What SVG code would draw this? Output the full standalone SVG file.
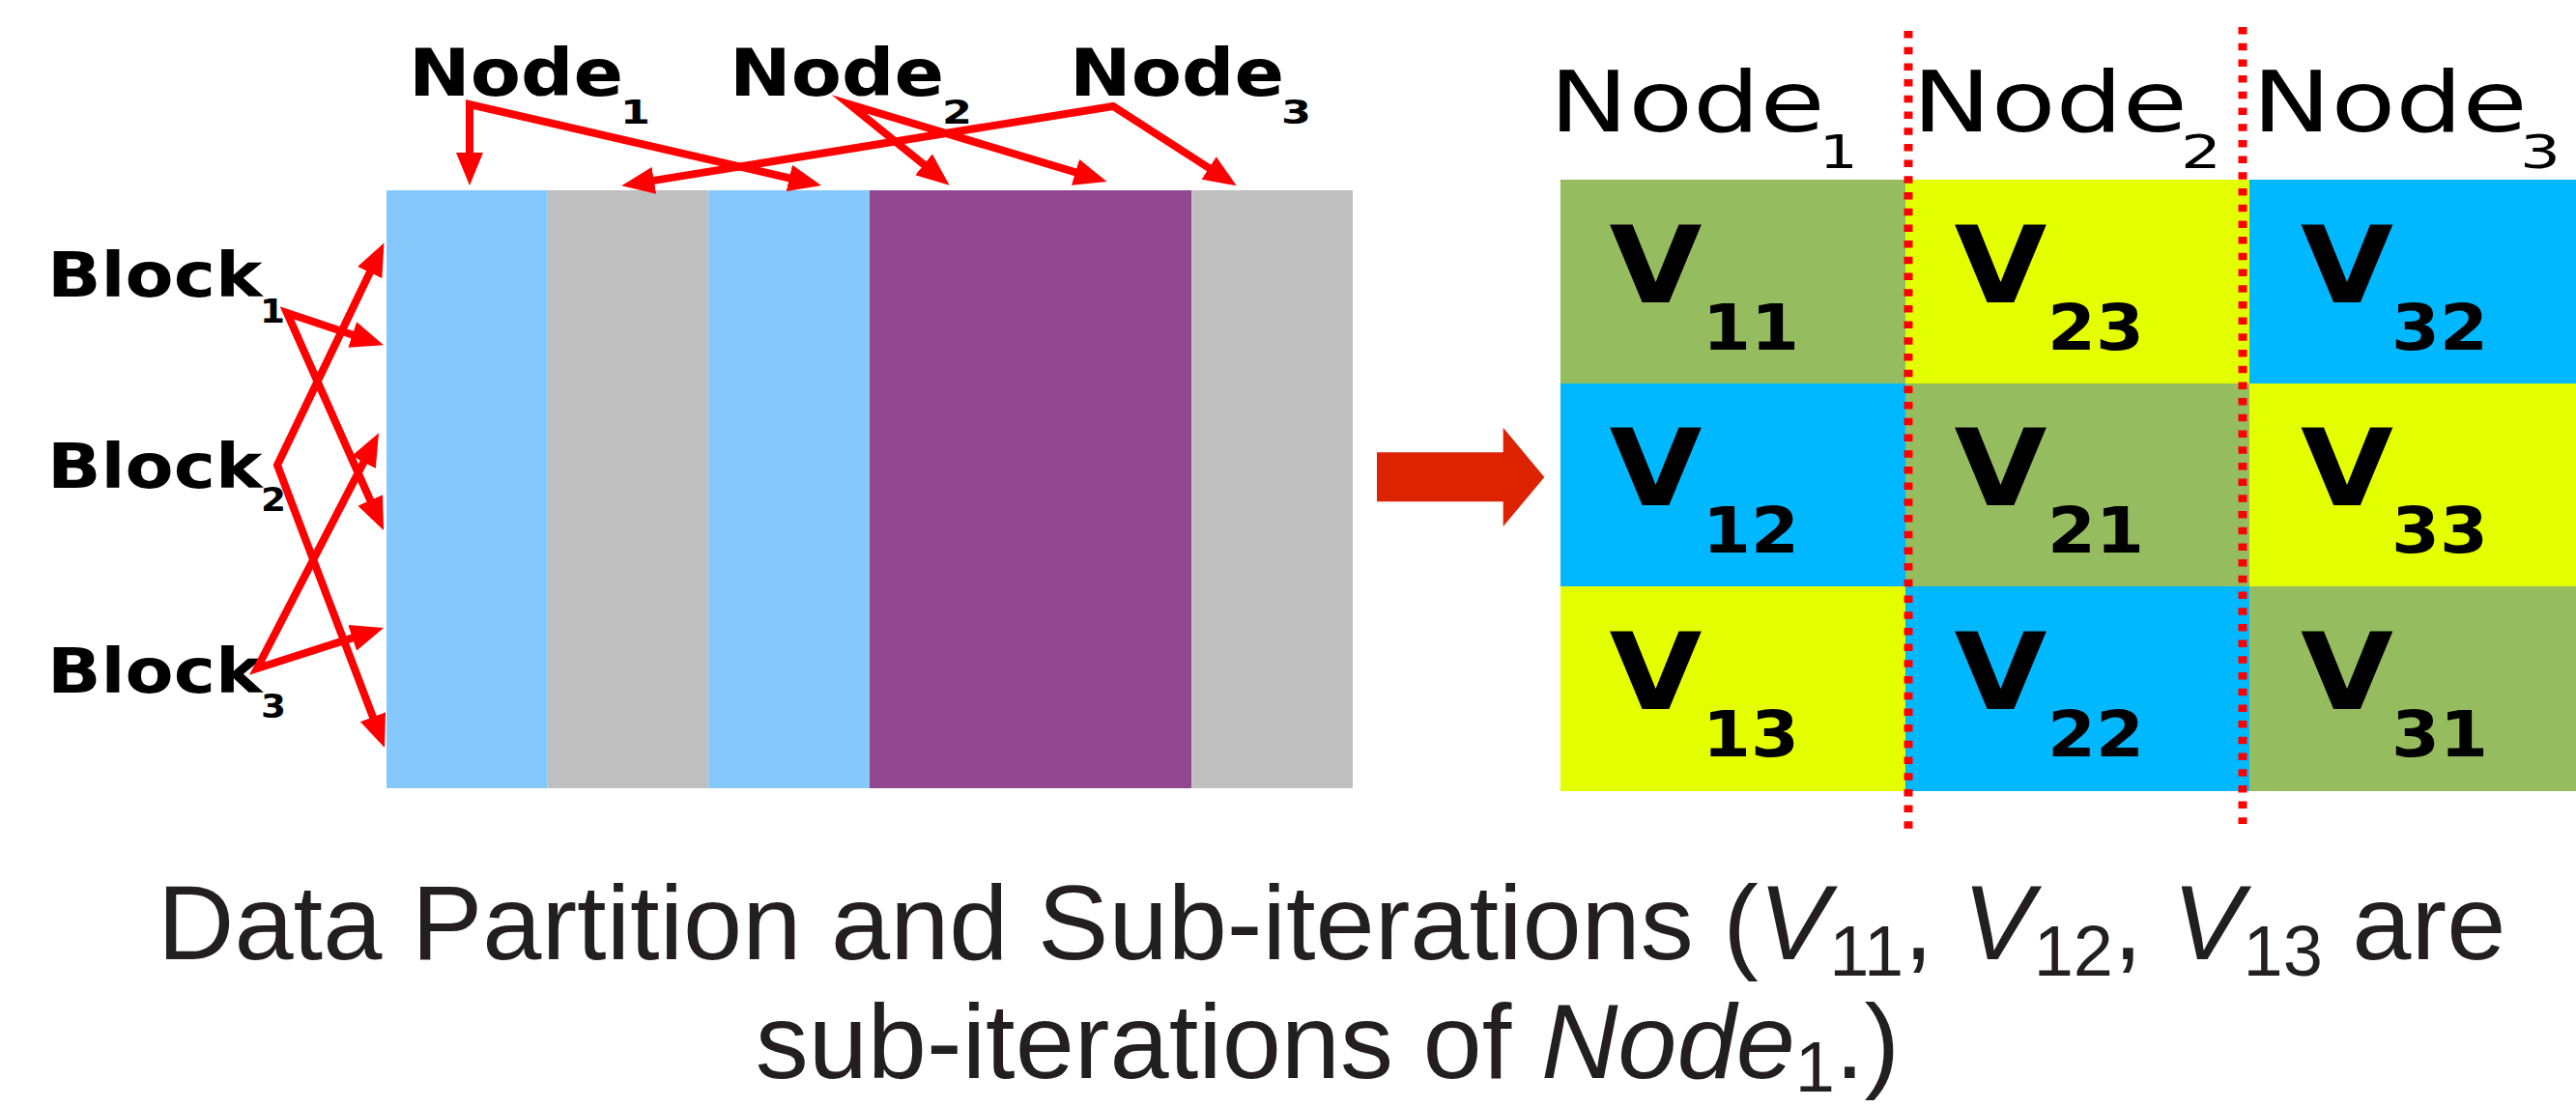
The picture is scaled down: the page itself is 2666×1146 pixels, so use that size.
<svg xmlns="http://www.w3.org/2000/svg" width="2666" height="1146" viewBox="0 0 2666 1146">
  <style>
    .lbl { font-family: "DejaVu Sans", "Liberation Sans", sans-serif; fill: #000; }
    .b { font-weight: bold; }
    .cap { font-family: "Liberation Sans", Arial, sans-serif; font-size: 110px; fill: #231f20; white-space: pre; }
    .link { fill: none; stroke: #ff0000; stroke-width: 8; stroke-linejoin: miter; stroke-miterlimit: 8; marker-start: url(#ah); marker-end: url(#ah); }
    .sep { stroke: #ff0000; stroke-width: 9; stroke-dasharray: 7.5 9.2; }
    .lb { fill: #85c8fc; }
    .gy { fill: #bfbfbf; }
    .pu { fill: #924891; }
    .g { fill: #95bc5e; }
    .y { fill: #e4ff00; }
    .c { fill: #00b8ff; }
  </style>
  <defs>
    <marker id="ah" markerUnits="userSpaceOnUse" markerWidth="34" markerHeight="28" viewBox="0 0 34 28" refX="14" refY="14" orient="auto-start-reverse">
      <path d="M0,0 L34,14 L0,28 z" fill="#ff0000"/>
    </marker>
  </defs>
  <rect width="2666" height="1146" fill="#ffffff"/>

  <!-- data blocks (columns of the partitioned data) -->
  <g id="data-bars">
    <rect class="lb" x="400" y="197" width="166.7" height="619"/>
    <rect class="gy" x="566.7" y="197" width="166.6" height="619"/>
    <rect class="lb" x="733.3" y="197" width="166.7" height="619"/>
    <rect class="pu" x="900" y="197" width="333.3" height="619"/>
    <rect class="gy" x="1233.3" y="197" width="166.7" height="619"/>
  </g>

  <!-- node labels above the data -->
  <g id="node1-top">
    <text class="lbl b" x="423" y="99.3" font-size="68" textLength="222" lengthAdjust="spacingAndGlyphs">Node</text>
    <text class="lbl b" x="642" y="128.3" font-size="34" textLength="31" lengthAdjust="spacingAndGlyphs">1</text>
  </g>
  <g id="node2-top">
    <text class="lbl b" x="755" y="99.3" font-size="68" textLength="222" lengthAdjust="spacingAndGlyphs">Node</text>
    <text class="lbl b" x="975" y="128.3" font-size="34" textLength="31" lengthAdjust="spacingAndGlyphs">2</text>
  </g>
  <g id="node3-top">
    <text class="lbl b" x="1107" y="99.3" font-size="68" textLength="222" lengthAdjust="spacingAndGlyphs">Node</text>
    <text class="lbl b" x="1326" y="128.3" font-size="34" textLength="31" lengthAdjust="spacingAndGlyphs">3</text>
  </g>

  <!-- block labels -->
  <g id="block1">
    <text class="lbl b" x="49" y="306.5" font-size="64" textLength="222.5" lengthAdjust="spacingAndGlyphs">Block</text>
    <text class="lbl b" x="269" y="333.5" font-size="33" textLength="26" lengthAdjust="spacingAndGlyphs">1</text>
  </g>
  <g id="block2">
    <text class="lbl b" x="49" y="504.5" font-size="64" textLength="222.5" lengthAdjust="spacingAndGlyphs">Block</text>
    <text class="lbl b" x="270" y="529" font-size="33" textLength="26" lengthAdjust="spacingAndGlyphs">2</text>
  </g>
  <g id="block3">
    <text class="lbl b" x="49" y="716.7" font-size="64" textLength="222.5" lengthAdjust="spacingAndGlyphs">Block</text>
    <text class="lbl b" x="270" y="743" font-size="33" textLength="26" lengthAdjust="spacingAndGlyphs">3</text>
  </g>

  <!-- connectors -->
  <g id="connectors">
    <path class="link" d="M486,172 L486,108 L830.5,187.5"/>
    <path class="link" d="M967,179.1 L879,108 L1126.4,182.3"/>
    <path class="link" d="M663,189.1 L1152,110 L1262.9,181.5"/>
    <path class="link" d="M388.9,530.7 L297,324 L378,351"/>
    <path class="link" d="M388.8,269.5 L287,481.5 L390.9,755.3"/>
    <path class="link" d="M382.8,466.1 L266,692 L378,656.1"/>
    <polygon id="transform-arrow" fill="#dd2200" points="1425,468.3 1555.7,468.3 1555.7,442.7 1598.3,494 1555.7,545 1555.7,519.3 1425,519.3"/>
  </g>

  <!-- sub-iteration grid -->
  <g id="grid">
    <g id="cell-v11"><rect class="g" x="1615" y="186" width="357" height="211"/>
      <text class="lbl b" x="1665.6" y="312.7" font-size="111" textLength="96" lengthAdjust="spacingAndGlyphs">V</text>
      <text class="lbl b" x="1762" y="361.7" font-size="65" textLength="100" lengthAdjust="spacingAndGlyphs">11</text></g>
    <g id="cell-v23"><rect class="y" x="1972" y="186" width="356" height="211"/>
      <text class="lbl b" x="2022.6" y="312.7" font-size="111" textLength="96" lengthAdjust="spacingAndGlyphs">V</text>
      <text class="lbl b" x="2119" y="361.7" font-size="65" textLength="100" lengthAdjust="spacingAndGlyphs">23</text></g>
    <g id="cell-v32"><rect class="c" x="2328" y="186" width="338" height="211"/>
      <text class="lbl b" x="2381" y="312.7" font-size="111" textLength="96" lengthAdjust="spacingAndGlyphs">V</text>
      <text class="lbl b" x="2475" y="361.7" font-size="65" textLength="100" lengthAdjust="spacingAndGlyphs">32</text></g>

    <g id="cell-v12"><rect class="c" x="1615" y="397" width="357" height="210"/>
      <text class="lbl b" x="1665.6" y="523.3" font-size="111" textLength="96" lengthAdjust="spacingAndGlyphs">V</text>
      <text class="lbl b" x="1762" y="572.3" font-size="65" textLength="100" lengthAdjust="spacingAndGlyphs">12</text></g>
    <g id="cell-v21"><rect class="g" x="1972" y="397" width="356" height="210"/>
      <text class="lbl b" x="2022.6" y="523.3" font-size="111" textLength="96" lengthAdjust="spacingAndGlyphs">V</text>
      <text class="lbl b" x="2119" y="572.3" font-size="65" textLength="100" lengthAdjust="spacingAndGlyphs">21</text></g>
    <g id="cell-v33"><rect class="y" x="2328" y="397" width="338" height="210"/>
      <text class="lbl b" x="2381" y="523.3" font-size="111" textLength="96" lengthAdjust="spacingAndGlyphs">V</text>
      <text class="lbl b" x="2475" y="572.3" font-size="65" textLength="100" lengthAdjust="spacingAndGlyphs">33</text></g>

    <g id="cell-v13"><rect class="y" x="1615" y="607" width="357" height="212"/>
      <text class="lbl b" x="1665.6" y="734.3" font-size="111" textLength="96" lengthAdjust="spacingAndGlyphs">V</text>
      <text class="lbl b" x="1762" y="783.3" font-size="65" textLength="100" lengthAdjust="spacingAndGlyphs">13</text></g>
    <g id="cell-v22"><rect class="c" x="1972" y="607" width="356" height="212"/>
      <text class="lbl b" x="2022.6" y="734.3" font-size="111" textLength="96" lengthAdjust="spacingAndGlyphs">V</text>
      <text class="lbl b" x="2119" y="783.3" font-size="65" textLength="100" lengthAdjust="spacingAndGlyphs">22</text></g>
    <g id="cell-v31"><rect class="g" x="2328" y="607" width="338" height="212"/>
      <text class="lbl b" x="2381" y="734.3" font-size="111" textLength="96" lengthAdjust="spacingAndGlyphs">V</text>
      <text class="lbl b" x="2475" y="783.3" font-size="65" textLength="100" lengthAdjust="spacingAndGlyphs">31</text></g>
  </g>

  <!-- column headers of the grid -->
  <g id="node1-col">
    <text class="lbl" x="1603.6" y="136" font-size="88" textLength="285" lengthAdjust="spacingAndGlyphs">Node</text>
    <text class="lbl" x="1882.7" y="174" font-size="48" textLength="40" lengthAdjust="spacingAndGlyphs">1</text>
  </g>
  <g id="node2-col">
    <text class="lbl" x="1979" y="136" font-size="88" textLength="285" lengthAdjust="spacingAndGlyphs">Node</text>
    <text class="lbl" x="2257" y="174" font-size="48" textLength="42" lengthAdjust="spacingAndGlyphs">2</text>
  </g>
  <g id="node3-col">
    <text class="lbl" x="2330.8" y="136" font-size="88" textLength="285" lengthAdjust="spacingAndGlyphs">Node</text>
    <text class="lbl" x="2608" y="174" font-size="48" textLength="42" lengthAdjust="spacingAndGlyphs">3</text>
  </g>

  <!-- dotted node boundaries -->
  <g id="separators">
    <line class="sep" x1="1975" y1="32" x2="1975" y2="858"/>
    <line class="sep" x1="2321" y1="28" x2="2321" y2="853"/>
  </g>

  <!-- caption -->
  <g id="caption">
    <text class="cap" x="163" y="993.3">Data Partition and Sub-iterations (<tspan font-style="italic">V</tspan><tspan font-size="74" dy="17">11</tspan><tspan dy="-17">, </tspan><tspan font-style="italic">V</tspan><tspan font-size="74" dy="17">12</tspan><tspan dy="-17">, </tspan><tspan font-style="italic">V</tspan><tspan font-size="74" dy="17">13</tspan><tspan dy="-17"> are</tspan></text>
    <text class="cap" x="781.7" y="1116">sub-iterations of <tspan font-style="italic">Node</tspan><tspan font-size="74" dy="14">1</tspan><tspan dy="-14">.)</tspan></text>
  </g>
</svg>
